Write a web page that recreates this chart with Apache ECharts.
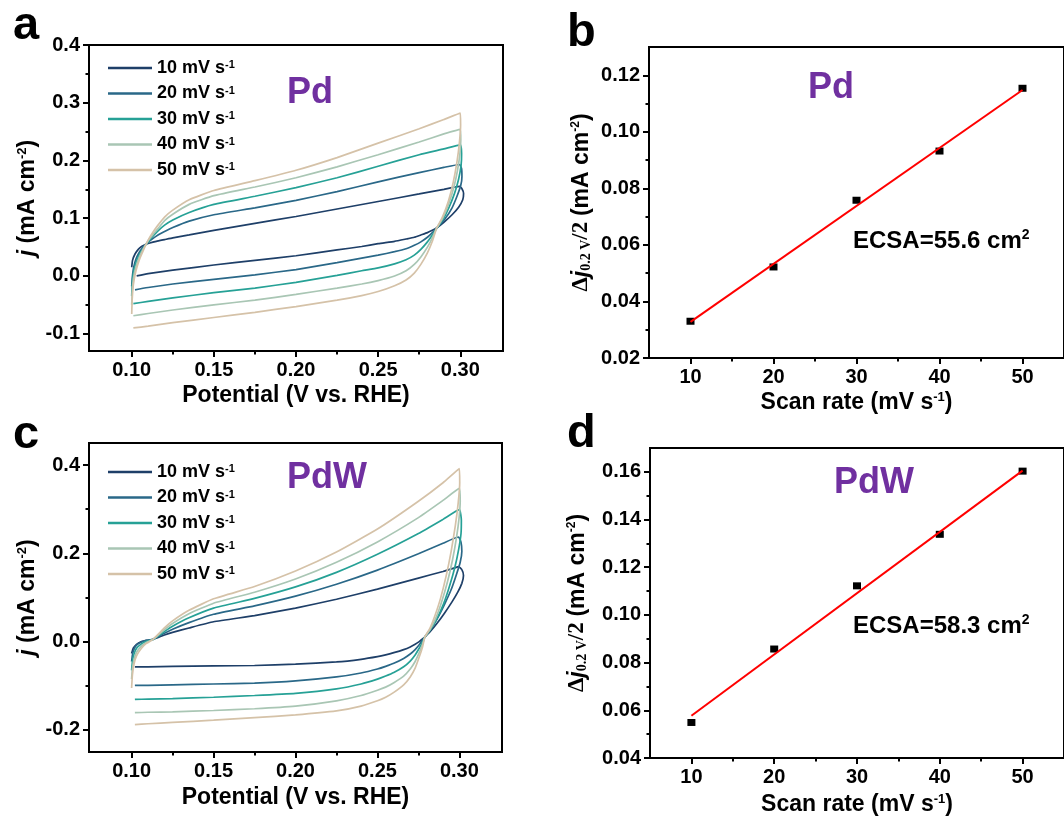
<!DOCTYPE html>
<html>
<head>
<meta charset="utf-8">
<script src="https://cdn.jsdelivr.net/npm/echarts@6/dist/echarts.min.js"></script>
<style>
html,body{margin:0;padding:0;background:#fff;}
#chart{width:1064px;height:819px;}
</style>
</head>
<body>
<div id="chart"></div>
<script>
// ---------------- DATA ----------------
const scanRates = [10, 20, 30, 40, 50];
const legendNames = ['10 mV s-1', '20 mV s-1', '30 mV s-1', '40 mV s-1', '50 mV s-1'];
const cvColors = ['#1e3f68', '#2a6888', '#26a196', '#a9c6b4', '#d5c2a8'];

// Pd cyclic voltammograms [potential V, j mA cm-2]
const pd10 = [[0.100,0.015],[0.1005,0.027],[0.102,0.038],[0.104,0.046],[0.106,0.051],[0.108,0.054],[0.111,0.057],[0.115,0.060],[0.120,0.063],[0.125,0.066],[0.135,0.071],[0.150,0.079],[0.175,0.091],[0.200,0.103],[0.225,0.116],[0.250,0.129],[0.275,0.142],[0.290,0.150],[0.297,0.154],
[0.2995,0.155],[0.301,0.151],[0.302,0.143],[0.3015,0.132],[0.299,0.119],[0.295,0.106],[0.290,0.093],[0.2855,0.083],
[0.283,0.079],[0.280,0.075],[0.276,0.071],[0.272,0.067],[0.267,0.064],[0.260,0.060],[0.250,0.056],[0.240,0.051],[0.225,0.045],[0.200,0.035],[0.175,0.027],[0.150,0.019],[0.125,0.010],[0.110,0.004],[0.103,0.000]];
const pd20 = [[0.100,-0.018],[0.1004,-0.002],[0.1012,0.015],[0.1027,0.030],[0.1048,0.042],[0.107,0.050],[0.109,0.056],[0.112,0.063],[0.116,0.071],[0.120,0.077],[0.125,0.084],[0.135,0.095],[0.150,0.106],[0.175,0.118],[0.200,0.131],[0.225,0.146],[0.250,0.163],[0.275,0.179],[0.290,0.188],[0.2995,0.193],
[0.3008,0.186],[0.301,0.172],[0.3003,0.157],[0.298,0.138],[0.295,0.118],[0.2905,0.098],[0.2855,0.082],
[0.283,0.075],[0.280,0.067],[0.276,0.059],[0.272,0.053],[0.267,0.047],[0.260,0.042],[0.250,0.036],[0.240,0.031],[0.225,0.023],[0.200,0.011],[0.175,0.002],[0.150,-0.006],[0.125,-0.014],[0.110,-0.020],[0.102,-0.024]];
const pd30 = [[0.100,-0.035],[0.1003,-0.015],[0.101,0.005],[0.1025,0.022],[0.1045,0.036],[0.107,0.048],[0.1095,0.057],[0.112,0.066],[0.116,0.078],[0.120,0.088],[0.125,0.097],[0.135,0.110],[0.150,0.124],[0.175,0.138],[0.200,0.153],[0.225,0.170],[0.250,0.190],[0.275,0.210],[0.290,0.220],[0.300,0.227],
[0.3008,0.212],[0.3005,0.192],[0.299,0.168],[0.2965,0.143],[0.293,0.118],[0.2895,0.098],[0.2855,0.082],
[0.283,0.071],[0.280,0.059],[0.276,0.046],[0.272,0.036],[0.267,0.028],[0.260,0.021],[0.250,0.014],[0.240,0.009],[0.225,0.001],[0.200,-0.011],[0.175,-0.021],[0.150,-0.029],[0.125,-0.038],[0.110,-0.044],[0.101,-0.048]];
const pd40 = [[0.100,-0.050],[0.1003,-0.028],[0.101,-0.005],[0.1025,0.015],[0.1045,0.032],[0.107,0.047],[0.110,0.061],[0.113,0.072],[0.116,0.082],[0.120,0.096],[0.125,0.107],[0.135,0.124],[0.150,0.139],[0.175,0.154],[0.200,0.170],[0.225,0.189],[0.250,0.210],[0.275,0.232],[0.290,0.246],[0.300,0.254],
[0.3003,0.236],[0.2998,0.212],[0.2983,0.183],[0.2962,0.155],[0.2932,0.127],[0.2893,0.100],[0.2855,0.082],
[0.283,0.066],[0.280,0.050],[0.276,0.033],[0.272,0.020],[0.267,0.009],[0.260,0.000],[0.250,-0.008],[0.240,-0.014],[0.225,-0.021],[0.200,-0.032],[0.175,-0.042],[0.150,-0.050],[0.125,-0.059],[0.110,-0.065],[0.101,-0.069]];
const pd50 = [[0.100,-0.066],[0.1003,-0.040],[0.101,-0.015],[0.1025,0.008],[0.1045,0.027],[0.107,0.044],[0.110,0.062],[0.113,0.076],[0.116,0.088],[0.120,0.102],[0.125,0.114],[0.135,0.132],[0.150,0.148],[0.175,0.165],[0.200,0.183],[0.225,0.205],[0.250,0.230],[0.275,0.255],[0.290,0.271],[0.300,0.282],
[0.3002,0.262],[0.2995,0.232],[0.298,0.198],[0.2957,0.162],[0.2928,0.130],[0.289,0.101],[0.2855,0.082],
[0.283,0.060],[0.280,0.040],[0.276,0.020],[0.272,0.005],[0.267,-0.007],[0.260,-0.017],[0.250,-0.027],[0.240,-0.034],[0.225,-0.042],[0.200,-0.053],[0.175,-0.063],[0.150,-0.072],[0.125,-0.081],[0.110,-0.087],[0.101,-0.090]];

// PdW cyclic voltammograms
const pdw10 = [[0.100,-0.027],[0.101,-0.015],[0.103,-0.006],[0.106,0.000],[0.109,0.003],[0.113,0.005],[0.120,0.015],[0.125,0.021],[0.135,0.031],[0.150,0.045],[0.175,0.059],[0.200,0.076],[0.225,0.096],[0.250,0.119],[0.275,0.144],[0.290,0.159],[0.297,0.167],
[0.2995,0.170],[0.3015,0.163],[0.3025,0.150],[0.3015,0.132],[0.299,0.112],[0.2955,0.090],[0.291,0.065],[0.2865,0.042],[0.2825,0.024],[0.279,0.011],
[0.2775,0.006],[0.2755,0.000],[0.273,-0.006],[0.270,-0.012],[0.266,-0.018],[0.260,-0.025],[0.255,-0.030],[0.250,-0.034],[0.240,-0.040],[0.225,-0.046],[0.200,-0.051],[0.175,-0.054],[0.150,-0.055],[0.125,-0.056],[0.110,-0.057],[0.102,-0.057]];
const pdw20 = [[0.100,-0.045],[0.1005,-0.030],[0.1015,-0.017],[0.103,-0.008],[0.106,-0.001],[0.109,0.003],[0.113,0.005],[0.120,0.019],[0.125,0.028],[0.135,0.043],[0.150,0.062],[0.175,0.081],[0.200,0.103],[0.225,0.130],[0.250,0.162],[0.275,0.199],[0.290,0.223],[0.2995,0.237],
[0.301,0.225],[0.3015,0.205],[0.3005,0.180],[0.298,0.150],[0.295,0.118],[0.291,0.085],[0.2865,0.052],[0.2825,0.028],[0.279,0.011],
[0.2775,0.003],[0.2755,-0.007],[0.273,-0.018],[0.270,-0.028],[0.266,-0.038],[0.260,-0.049],[0.255,-0.056],[0.250,-0.062],[0.240,-0.071],[0.225,-0.080],[0.200,-0.089],[0.175,-0.094],[0.150,-0.096],[0.125,-0.098],[0.110,-0.099],[0.102,-0.099]];
const pdw30 = [[0.100,-0.065],[0.1005,-0.045],[0.1015,-0.028],[0.103,-0.015],[0.106,-0.005],[0.109,0.001],[0.113,0.005],[0.120,0.023],[0.125,0.035],[0.135,0.054],[0.150,0.076],[0.175,0.098],[0.200,0.124],[0.225,0.157],[0.250,0.198],[0.275,0.245],[0.290,0.277],[0.300,0.299],
[0.3012,0.275],[0.301,0.245],[0.2995,0.208],[0.2972,0.168],[0.294,0.126],[0.2903,0.085],[0.286,0.050],[0.2823,0.027],[0.279,0.011],
[0.2775,-0.001],[0.2755,-0.015],[0.273,-0.030],[0.270,-0.044],[0.266,-0.057],[0.260,-0.070],[0.255,-0.078],[0.250,-0.085],[0.240,-0.096],[0.225,-0.107],[0.200,-0.117],[0.175,-0.122],[0.150,-0.126],[0.125,-0.129],[0.110,-0.130],[0.102,-0.131]];
const pdw40 = [[0.100,-0.085],[0.1005,-0.060],[0.1015,-0.040],[0.103,-0.024],[0.106,-0.010],[0.109,-0.002],[0.113,0.005],[0.120,0.027],[0.125,0.041],[0.135,0.063],[0.150,0.087],[0.175,0.112],[0.200,0.142],[0.225,0.180],[0.250,0.226],[0.275,0.281],[0.290,0.320],[0.300,0.347],
[0.3005,0.318],[0.2998,0.280],[0.2982,0.235],[0.2958,0.185],[0.2927,0.135],[0.289,0.088],[0.2855,0.052],[0.282,0.027],[0.279,0.011],
[0.2775,-0.006],[0.2755,-0.025],[0.273,-0.045],[0.270,-0.062],[0.266,-0.078],[0.260,-0.093],[0.255,-0.103],[0.250,-0.110],[0.240,-0.122],[0.225,-0.134],[0.200,-0.146],[0.175,-0.152],[0.150,-0.156],[0.125,-0.159],[0.110,-0.160],[0.102,-0.161]];
const pdw50 = [[0.100,-0.105],[0.1005,-0.075],[0.1015,-0.050],[0.103,-0.032],[0.106,-0.015],[0.109,-0.004],[0.113,0.005],[0.120,0.031],[0.125,0.047],[0.135,0.071],[0.150,0.097],[0.175,0.125],[0.200,0.160],[0.225,0.203],[0.250,0.255],[0.275,0.318],[0.290,0.360],[0.300,0.392],
[0.3002,0.360],[0.2993,0.315],[0.2975,0.262],[0.295,0.205],[0.292,0.150],[0.2885,0.098],[0.285,0.058],[0.282,0.030],[0.279,0.011],
[0.2775,-0.012],[0.2755,-0.035],[0.273,-0.060],[0.270,-0.080],[0.266,-0.098],[0.260,-0.115],[0.255,-0.126],[0.250,-0.134],[0.240,-0.146],[0.225,-0.157],[0.200,-0.166],[0.175,-0.172],[0.150,-0.178],[0.125,-0.183],[0.110,-0.186],[0.102,-0.188]];

// Double-layer current vs scan rate
const pdDeltaJ = [0.033, 0.0522, 0.0758, 0.0932, 0.1154];
const pdFit = [[10, 0.0328], [50, 0.1148]];
const pdwDeltaJ = [0.0549, 0.0857, 0.1122, 0.1338, 0.1603];
const pdwFit = [[10, 0.0577], [50, 0.1605]];

// Tick labels
const cvXTicks = [0.10, 0.15, 0.20, 0.25, 0.30];
const cvXMinor = [0.125, 0.175, 0.225, 0.275];
const pdYTicks = [-0.1, 0.0, 0.1, 0.2, 0.3, 0.4];
const pdYMinor = [-0.05, 0.05, 0.15, 0.25, 0.35];
const pdwYTicks = [-0.2, 0.0, 0.2, 0.4];
const pdwYMinor = [-0.1, 0.1, 0.3];
const rateTicks = [10, 20, 30, 40, 50];
const rateMinor = [15, 25, 35, 45];
const bYTicks = [0.02, 0.04, 0.06, 0.08, 0.10, 0.12];
const bYMinor = [0.03, 0.05, 0.07, 0.09, 0.11];
const dYTicks = [0.04, 0.06, 0.08, 0.10, 0.12, 0.14, 0.16];
const dYMinor = [0.05, 0.07, 0.09, 0.11, 0.13, 0.15];

// ---------------- CHART ----------------
const FONT = '"Liberation Sans", Arial, sans-serif';
const SERIF = '"Liberation Serif", "Times New Roman", serif';
const PURPLE = '#7030a0';

function axisPair(dim, gi, min, max, majors, minors, dec, extra) {
  const pos = dim === 'x' ? 'bottom' : 'left';
  const main = Object.assign({
    type: 'value', gridIndex: gi, min: min, max: max, position: pos,
    axisLine: { show: true, onZero: false, lineStyle: { color: '#000', width: 2 } },
    axisTick: { show: true, inside: false, length: 6, customValues: majors, lineStyle: { color: '#000', width: 2 } },
    axisLabel: { show: true, customValues: majors, formatter: v => Number(v).toFixed(dec),
      color: '#000', fontFamily: FONT, fontWeight: 'bold', fontSize: 20, margin: dim === 'x' ? 9 : 9 },
    splitLine: { show: false }
  }, extra);
  const minor = {
    type: 'value', gridIndex: gi, min: min, max: max, position: pos,
    axisLine: { show: false, onZero: false },
    axisTick: { show: true, inside: false, length: 3.5, customValues: minors, lineStyle: { color: '#000', width: 2 } },
    axisLabel: { show: false }, splitLine: { show: false }
  };
  return [main, minor];
}

const titleStyle = { fontFamily: FONT, fontWeight: 'bold', fontSize: 23, color: '#000' };
const jRich = {
  i: { fontFamily: FONT, fontWeight: 'bold', fontStyle: 'italic', fontSize: 23, color: '#000' },
  b: { fontFamily: FONT, fontWeight: 'bold', fontSize: 23, color: '#000' },
  sup: { fontFamily: FONT, fontWeight: 'bold', fontSize: 13, color: '#000', verticalAlign: 'top', lineHeight: 10 }
};
const djRich = {
  d: { fontFamily: SERIF, fontSize: 23, color: '#000' },
  i: { fontFamily: FONT, fontWeight: 'bold', fontStyle: 'italic', fontSize: 23, color: '#000' },
  sub: { fontFamily: SERIF, fontSize: 14, color: '#000', verticalAlign: 'bottom', lineHeight: 12 },
  s: { fontFamily: SERIF, fontSize: 23, color: '#000' },
  b: { fontFamily: FONT, fontWeight: 'bold', fontSize: 23, color: '#000' },
  sup: { fontFamily: FONT, fontWeight: 'bold', fontSize: 12, color: '#000', verticalAlign: 'top', lineHeight: 10 }
};
const jName = '{i|j} {b|(mA cm}{sup|-2}{b|)}';
const djName = '{d|Δ}{i|j}{sub|0.2 V}{s|/2 }{b|(mA cm}{sup|-2}{b|)}';
const rateName = '{b|Scan rate (mV s}{sup|-1}{b|)}';

const ax = {
  aX: axisPair('x', 0, 0.074, 0.326, cvXTicks, cvXMinor, 2, { name: 'Potential (V vs. RHE)', nameLocation: 'middle', nameGap: 33, nameTextStyle: titleStyle }),
  bX: axisPair('x', 1, 5, 55, rateTicks, rateMinor, 0, { name: rateName, nameLocation: 'middle', nameGap: 33, nameTextStyle: Object.assign({ rich: jRich }, titleStyle) }),
  cX: axisPair('x', 2, 0.074, 0.326, cvXTicks, cvXMinor, 2, { name: 'Potential (V vs. RHE)', nameLocation: 'middle', nameGap: 34, nameTextStyle: titleStyle }),
  dX: axisPair('x', 3, 5, 55, rateTicks, rateMinor, 0, { name: rateName, nameLocation: 'middle', nameGap: 35, nameTextStyle: Object.assign({ rich: jRich }, titleStyle) }),
  aY: axisPair('y', 0, -0.13, 0.4, pdYTicks, pdYMinor, 1, { name: jName, nameLocation: 'middle', nameGap: 50, nameTextStyle: Object.assign({ rich: jRich }, titleStyle) }),
  bY: axisPair('y', 1, 0.02, 0.13, bYTicks, bYMinor, 2, { name: djName, nameLocation: 'middle', nameGap: 56, nameTextStyle: Object.assign({ rich: djRich }, titleStyle) }),
  cY: axisPair('y', 2, -0.25, 0.45, pdwYTicks, pdwYMinor, 1, { name: jName, nameLocation: 'middle', nameGap: 50, nameTextStyle: Object.assign({ rich: jRich }, titleStyle) }),
  dY: axisPair('y', 3, 0.04, 0.17, dYTicks, dYMinor, 2, { name: djName, nameLocation: 'middle', nameGap: 61, nameTextStyle: Object.assign({ rich: djRich }, titleStyle) })
};

const gridBase = { show: true, borderColor: '#000', borderWidth: 2, backgroundColor: 'transparent', containLabel: false };

function cvSeries(datas, axisIdx) {
  return datas.map((d, i) => ({
    type: 'line', name: legendNames[i], xAxisIndex: axisIdx, yAxisIndex: axisIdx,
    data: d, symbol: 'none', showSymbol: false, smooth: 0.15,
    lineStyle: { color: cvColors[i], width: 1.7 }, itemStyle: { color: cvColors[i] },
    animation: false, z: 3
  }));
}

function legendCfg(top) {
  return {
    orient: 'vertical', left: 108, top: top, padding: 0, itemWidth: 44, itemHeight: 2.5, itemGap: 7.5,
    icon: 'rect',
    data: legendNames, selectedMode: false,
    formatter: n => '{t|' + n.replace('-1', '') + '}{sup|-1}',
    textStyle: {
      fontFamily: FONT, fontWeight: 'bold', fontSize: 18, color: '#000',
      rich: {
        t: { fontFamily: FONT, fontWeight: 'bold', fontSize: 18, color: '#000', lineHeight: 17 },
        sup: { fontFamily: FONT, fontWeight: 'bold', fontSize: 11, color: '#000', verticalAlign: 'top', lineHeight: 8 }
      }
    }
  };
}

function txt(x, y, text, font, fill, rich) {
  const st = { text: text, font: font, fill: fill, x: 0, y: 0, textAlign: 'left', textVerticalAlign: 'top', align: 'left', verticalAlign: 'top' };
  if (rich) st.rich = rich;
  return { type: 'text', x: x, y: y, z: 100, style: st };
}

const ecsaRich = {
  m: { fontFamily: FONT, fontWeight: 'bold', fontSize: 24, color: '#000', lineHeight: 26 },
  sup: { fontFamily: FONT, fontWeight: 'bold', fontSize: 14, color: '#000', verticalAlign: 'top', lineHeight: 12 }
};

const option = {
  backgroundColor: '#fff',
  animation: false,
  grid: [
    Object.assign({ left: 89, top: 45, width: 414, height: 306 }, gridBase),
    Object.assign({ left: 649, top: 47, width: 423, height: 311 }, gridBase),
    Object.assign({ left: 89, top: 443, width: 413, height: 309 }, gridBase),
    Object.assign({ left: 650, top: 448, width: 423, height: 310 }, gridBase)
  ],
  xAxis: [ax.aX[0], ax.bX[0], ax.cX[0], ax.dX[0], ax.aX[1], ax.bX[1], ax.cX[1], ax.dX[1]],
  yAxis: [ax.aY[0], ax.bY[0], ax.cY[0], ax.dY[0], ax.aY[1], ax.bY[1], ax.cY[1], ax.dY[1]],
  legend: [legendCfg(59), legendCfg(463)],
  series: [
    ...cvSeries([pd10, pd20, pd30, pd40, pd50], 0),
    ...cvSeries([pdw10, pdw20, pdw30, pdw40, pdw50], 2),
    { type: 'scatter', name: 'Pd points', xAxisIndex: 1, yAxisIndex: 1, data: scanRates.map((r, i) => [r, pdDeltaJ[i]]),
      symbol: 'rect', symbolSize: [8, 7], itemStyle: { color: '#000', opacity: 1 }, z: 3 },
    { type: 'line', name: 'Pd fit', xAxisIndex: 1, yAxisIndex: 1, data: pdFit, symbol: 'none',
      lineStyle: { color: '#ff0000', width: 2 }, z: 4 },
    { type: 'scatter', name: 'PdW points', xAxisIndex: 3, yAxisIndex: 3, data: scanRates.map((r, i) => [r, pdwDeltaJ[i]]),
      symbol: 'rect', symbolSize: [8, 7], itemStyle: { color: '#000', opacity: 1 }, z: 3 },
    { type: 'line', name: 'PdW fit', xAxisIndex: 3, yAxisIndex: 3, data: pdwFit, symbol: 'none',
      lineStyle: { color: '#ff0000', width: 2 }, z: 4 }
  ],
  graphic: [
    txt(13, 3, 'a', 'bold 47px ' + FONT, '#000'),
    txt(567, 10, 'b', 'bold 47px ' + FONT, '#000'),
    txt(13, 412, 'c', 'bold 47px ' + FONT, '#000'),
    txt(567, 411, 'd', 'bold 47px ' + FONT, '#000'),
    txt(287, 75, 'Pd', 'bold 36px ' + FONT, PURPLE),
    txt(808, 70, 'Pd', 'bold 36px ' + FONT, PURPLE),
    txt(287, 460, 'PdW', 'bold 36px ' + FONT, PURPLE),
    txt(834, 465, 'PdW', 'bold 36px ' + FONT, PURPLE),
    txt(853, 228, '{m|ECSA=55.6 cm}{sup|2}', 'bold 24px ' + FONT, '#000', ecsaRich),
    txt(853, 613, '{m|ECSA=58.3 cm}{sup|2}', 'bold 24px ' + FONT, '#000', ecsaRich)
  ]
};

const chart = echarts.init(document.getElementById('chart'), null, { renderer: 'canvas' });
chart.setOption(option);
</script>
</body>
</html>
